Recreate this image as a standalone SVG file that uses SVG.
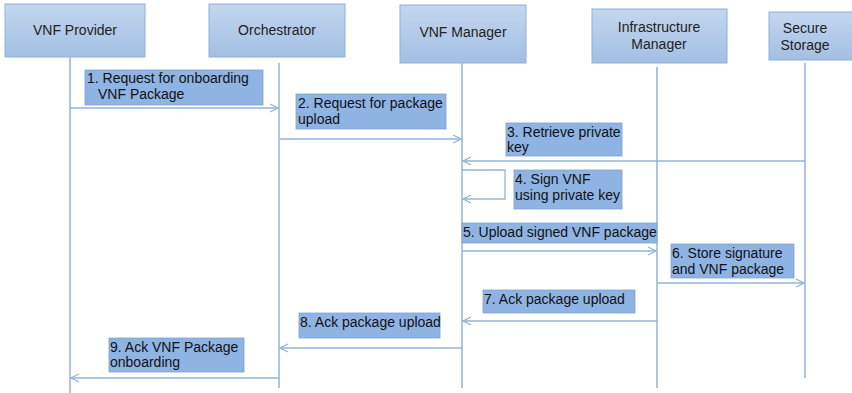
<svg xmlns="http://www.w3.org/2000/svg" width="852" height="393" viewBox="0 0 852 393">
  <defs>
    <linearGradient id="hdrFill" x1="0" y1="0" x2="0" y2="1">
      <stop offset="0" stop-color="#c3d7ef"/>
      <stop offset="1" stop-color="#a2bfe3"/>
    </linearGradient>
    <marker id="open" viewBox="0 0 10 10" refX="9" refY="5" markerWidth="10" markerHeight="10" markerUnits="userSpaceOnUse" orient="auto">
      <polyline points="1,1 9,5 1,9" fill="none" stroke="#95b3d7" stroke-width="1.3"/>
    </marker>
  </defs>
  <style>
    .hdr { fill: url(#hdrFill); stroke: #8fb0d8; stroke-width: 1; }
    .lbl { fill: #8fb4e3; stroke: #7ea3d0; stroke-width: 0.8; }
    .ht { font-family: "Liberation Sans", Arial, sans-serif; font-size: 14px; fill: #222; text-anchor: middle; }
    .t { font-family: "Liberation Sans", Arial, sans-serif; font-size: 14px; fill: #111; }
    .life { stroke: #95b3d7; stroke-width: 1.5; fill: none; }
    .msg { stroke: #95b3d7; stroke-width: 1.3; fill: none; marker-end: url(#open); }
  </style>
  <rect width="852" height="393" fill="#ffffff"/>

  <!-- participants -->
  <g id="vnf-provider">
    <rect class="hdr" x="5" y="4" width="140" height="53"/>
    <text class="ht" x="75" y="35">VNF Provider</text>
  </g>
  <g id="orchestrator">
    <rect class="hdr" x="209" y="4" width="136" height="53"/>
    <text class="ht" x="277" y="35">Orchestrator</text>
  </g>
  <g id="vnf-manager">
    <rect class="hdr" x="400" y="5" width="126" height="58"/>
    <text class="ht" x="463" y="37">VNF Manager</text>
  </g>
  <g id="infrastructure-manager">
    <rect class="hdr" x="592" y="9" width="135" height="54"/>
    <text class="ht" x="659" y="32">Infrastructure</text>
    <text class="ht" x="659" y="49">Manager</text>
  </g>
  <g id="secure-storage">
    <rect class="hdr" x="769" y="12" width="90" height="48"/>
    <text class="ht" x="805" y="33">Secure</text>
    <text class="ht" x="805" y="50">Storage</text>
  </g>

  <!-- lifelines and messages -->
  <g id="connectors">
    <line class="life" x1="70" y1="57" x2="70" y2="393"/>
    <line class="life" x1="279" y1="63" x2="279" y2="388" stroke="#86abd9" stroke-width="2"/>
    <line class="life" x1="462" y1="63" x2="462" y2="388"/>
    <line class="life" x1="657" y1="67" x2="657" y2="388"/>
    <line class="life" x1="805" y1="63" x2="805" y2="378"/>

    <line class="msg" x1="70" y1="108" x2="278" y2="108"/>
    <line class="msg" x1="280" y1="139" x2="461" y2="139"/>
    <line class="msg" x1="805" y1="161" x2="463" y2="161"/>
    <polyline class="msg" points="462,170 505,170 505,199 463,199"/>
    <line class="msg" x1="462" y1="251" x2="656" y2="251"/>
    <line class="msg" x1="657" y1="283" x2="804" y2="283"/>
    <line class="msg" x1="657" y1="321" x2="463" y2="321"/>
    <line class="msg" x1="462" y1="348" x2="280" y2="348"/>
    <line class="msg" x1="279" y1="378" x2="71" y2="378"/>
  </g>

  <!-- message labels -->
  <g id="label-1">
    <rect class="lbl" x="85" y="70" width="178" height="35"/>
    <text class="t" x="87" y="83">1. Request for onboarding</text>
    <text class="t" x="98" y="99">VNF Package</text>
  </g>
  <g id="label-2">
    <rect class="lbl" x="296" y="94" width="150" height="35"/>
    <text class="t" x="298" y="108">2. Request for package</text>
    <text class="t" x="298" y="124">upload</text>
  </g>
  <g id="label-3">
    <rect class="lbl" x="506" y="123" width="116" height="33"/>
    <text class="t" x="507" y="137">3. Retrieve private</text>
    <text class="t" x="507" y="152">key</text>
  </g>
  <g id="label-4">
    <rect class="lbl" x="514" y="170" width="108" height="39"/>
    <text class="t" x="515" y="184">4. Sign VNF</text>
    <text class="t" x="515" y="200">using private key</text>
  </g>
  <g id="label-5">
    <rect class="lbl" x="462" y="223" width="195" height="20"/>
    <text class="t" x="463" y="237">5. Upload signed VNF package</text>
  </g>
  <g id="label-6">
    <rect class="lbl" x="671" y="244" width="123" height="34"/>
    <text class="t" x="672" y="258">6. Store signature</text>
    <text class="t" x="672" y="274">and VNF package</text>
  </g>
  <g id="label-7">
    <rect class="lbl" x="483" y="290" width="152" height="23"/>
    <text class="t" x="484" y="304">7. Ack package upload</text>
  </g>
  <g id="label-8">
    <rect class="lbl" x="299" y="313" width="141" height="25"/>
    <text class="t" x="300" y="327">8. Ack package upload</text>
  </g>
  <g id="label-9">
    <rect class="lbl" x="109" y="338" width="135" height="34"/>
    <text class="t" x="110" y="352">9. Ack VNF Package</text>
    <text class="t" x="110" y="367">onboarding</text>
  </g>
</svg>
